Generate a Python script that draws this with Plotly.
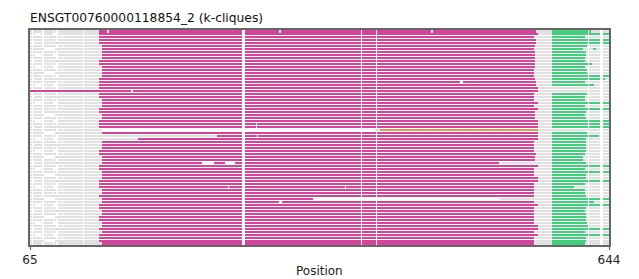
import plotly.graph_objects as go

# ---------------- data (sequence positions) ----------------
N_ROWS = 72
POS_MIN, POS_MAX = 65, 644
GREEN_START = 587

mag_start = [134,134,134,134,134,137,137,137,137,137,134,134,
             137,137,137,137,134,134,134,134,65,134,134,137,
             137,137,134,134,137,137,134,134,134,None,137,252,
             173,137,137,137,134,134,137,137,137,134,134,137,
             137,137,134,134,134,137,137,134,137,137,134,134,
             137,137,134,134,137,137,134,137,134,134,134,137]

mag_end = [571,573,569,571,571,570,569,570,570,570,570,570,
           570,569,569,569,570,571,571,573,573,569,569,569,
           573,569,573,570,570,570,573,573,573,None,573,573,
           573,569,569,569,569,571,570,570,534,573,569,569,
           569,573,573,569,569,569,569,569,348,569,573,569,
           569,569,569,569,569,573,573,569,573,569,569,569]

green_end = [626,644,620,644,644,622,631,621,621,620,620,627,
             620,622,622,644,640,620,629,None,None,622,620,620,
             644,620,644,621,620,621,644,644,644,None,622,634,
             621,621,621,621,621,620,618,618,621,644,620,644,
             621,621,644,620,609,620,620,621,644,629,644,621,
             620,621,621,621,622,623,644,620,644,621,621,620]

# right-hand grey start where it differs from the clique end
gray_right_start = {44: 537, 56: 535}

# clique 3 (single row)
orange_segments = [(33, 415, 573)]
orange_row_gray = [(33, 65, 137), (33, 410, 415), (33, 573, 644)]

# extra grey pieces drawn over the green
extra_gray = [(6, 618, 628)]

# texture of gaps in the left grey block: pattern letter per row
left_pattern = ("adbacbeadbca" "dbeacbdaebca" "dbacebdacbea"
                "dbcadbeacbda" "ebcadbacebda" "cbeadbcadbea")
left_gaps = {
    "a": [(67, 68), (77, 79), (88, 89), (91, 93), (118, 119)],
    "b": [(67, 68), (77, 79), (91, 93), (97, 98), (118, 119)],
    "c": [(67, 69), (77, 79), (118, 119)],
    "d": [(67, 68), (70, 76), (77, 79), (88, 93), (118, 119)],
    "e": [(67, 68), (79, 90), (118, 119)],
}
mag_gaps = [(277, 280), (396, 397), (411, 412)]
right_gaps = [(623, 624), (635, 638)]
extra_gaps = {0: [(142, 144), (314, 316), (466, 468)],
              17: [(495, 498)],
              20: [(166, 168)],
              31: [(291, 292)], 32: [(291, 292)], 35: [(292, 293)],
              44: [(237, 249), (260, 270)],
              52: [(263, 264), (380, 381)],
              57: [(314, 317)]}

COL_GRAY = "#e1e1e1"
COL_MAG = "#d5449a"
COL_GREEN = "#42d07c"
COL_ORANGE = "#d8a049"
COL_WHITE = "#ffffff"

# ---------------- build segments ----------------
gray, mag, green, white = [], [], [], []
for r in range(N_ROWS):
    ms, me, ge = mag_start[r], mag_end[r], green_end[r]
    if ms is None:
        continue
    if ms > POS_MIN:
        gray.append((r, POS_MIN, ms))
    mag.append((r, ms, me))
    gs = gray_right_start.get(r, me)
    if ge is None:
        gray.append((r, gs, POS_MAX))
    else:
        gray.append((r, gs, GREEN_START))
        green.append((r, GREEN_START, ge))
        if ge < POS_MAX:
            gray.append((r, ge, POS_MAX))
    for a, b in left_gaps[left_pattern[r]]:
        if b <= ms:
            white.append((r, a, b))
    for a, b in mag_gaps:
        if ms < a and b < me:
            white.append((r, a, b))
    for a, b in right_gaps:
        white.append((r, a, b))
    for a, b in extra_gaps.get(r, []):
        white.append((r, a, b))

gray += orange_row_gray
for r, a, b in orange_segments:
    for g0, g1 in left_gaps[left_pattern[r]]:
        white.append((r, g0, g1))
    for g0, g1 in right_gaps:
        white.append((r, g0, g1))

fig = go.Figure()


def add(segs, color):
    fig.add_trace(go.Bar(
        orientation="h",
        y=[s[0] for s in segs],
        base=[s[1] for s in segs],
        x=[s[2] - s[1] for s in segs],
        width=0.68,
        marker=dict(color=color, line=dict(width=0)),
        showlegend=False, hoverinfo="skip"))


add(gray, COL_GRAY)
add(mag, COL_MAG)
add(green, COL_GREEN)
add(orange_segments, COL_ORANGE)
add(extra_gray, COL_GRAY)
add(white, COL_WHITE)

spine = "rgba(0,0,0,0.6)"
fig.update_layout(
    width=639, height=279,
    margin=dict(l=30, r=30, t=30, b=31),
    barmode="overlay", bargap=0,
    plot_bgcolor="white", paper_bgcolor="white",
    font=dict(family="DejaVu Sans", size=12, color="#222"),
    title=dict(text="ENSGT00760000118854_2 (k-cliques)",
               xref="container", yref="container",
               x=30 / 639, xanchor="left",
               y=1 - 18 / 279, yanchor="middle",
               font=dict(family="DejaVu Sans", size=12.3, color="#111")),
    xaxis=dict(range=[POS_MIN, POS_MAX], tickvals=[POS_MIN, POS_MAX],
               ticktext=[str(POS_MIN), str(POS_MAX)],
               ticks="outside", ticklen=3, tickcolor="#555", tickwidth=1,
               showline=True, linecolor=spine, linewidth=2, mirror=True,
               showgrid=False, zeroline=False,
               tickfont=dict(family="DejaVu Sans", size=12, color="#222")),
    yaxis=dict(range=[N_ROWS - 0.5, -0.5], showticklabels=False, ticks="",
               showline=True, linecolor=spine, linewidth=2, mirror=True,
               showgrid=False, zeroline=False),
    annotations=[dict(text="Position", xref="paper", yref="paper",
                      x=0.5, y=-(274 - 248) / 218, xanchor="center",
                      yanchor="middle", showarrow=False,
                      font=dict(family="DejaVu Sans", size=12, color="#222"))],
)

fig.write_html("out.html")
